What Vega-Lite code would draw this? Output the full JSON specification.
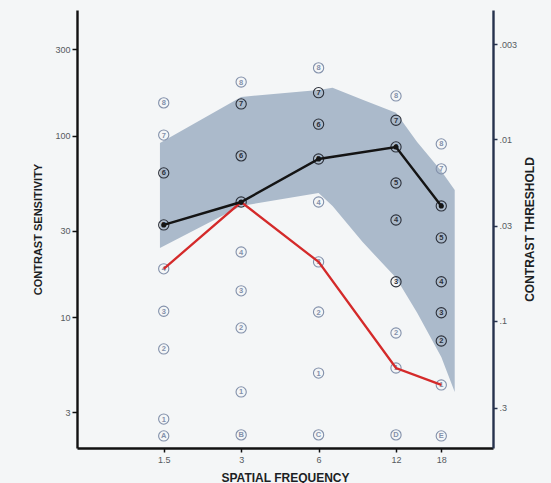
{
  "$schema": "https://vega.github.io/schema/vega-lite/v6.json",
  "autosize": {"type": "none"},
  "width": 416,
  "height": 438,
  "padding": {"left": 77, "top": 10, "right": 58, "bottom": 35},
  "background": "#f4f6f7",
  "config": {
    "view": {"stroke": null},
    "axis": {
      "grid": false,
      "labelFont": "Liberation Sans",
      "labelFontSize": 9,
      "labelColor": "#555a60",
      "titleFont": "Liberation Sans",
      "titleFontWeight": "bold",
      "titleColor": "#1c1f24"
    }
  },
  "datasets": {
    "band": [
      {"f": 1.45, "top": 91.4, "bottom": 24.1},
      {"f": 3, "top": 164, "bottom": 41.1},
      {"f": 6, "top": 179, "bottom": 48.5},
      {"f": 6.8, "top": 184, "bottom": 41.1},
      {"f": 8.9, "top": 158, "bottom": 26.0},
      {"f": 12, "top": 134, "bottom": 16.5},
      {"f": 14.5, "top": 92.6, "bottom": 10.6},
      {"f": 18, "top": 64.1, "bottom": 6.05},
      {"f": 20.3, "top": 50.4, "bottom": 3.88}
    ],
    "glyphs": [
      {"f": 1.5, "s": 152, "g": "8", "zone": "out"},
      {"f": 1.5, "s": 101, "g": "7", "zone": "out"},
      {"f": 1.5, "s": 62.5, "g": "6", "zone": "in"},
      {"f": 1.5, "s": 32.3, "g": "5", "zone": "in"},
      {"f": 1.5, "s": 18.5, "g": "4", "zone": "out"},
      {"f": 1.5, "s": 10.8, "g": "3", "zone": "out"},
      {"f": 1.5, "s": 6.7, "g": "2", "zone": "out"},
      {"f": 1.5, "s": 2.75, "g": "1", "zone": "out"},
      {"f": 1.5, "s": 2.22, "g": "A", "zone": "out"},
      {"f": 3, "s": 198, "g": "8", "zone": "out"},
      {"f": 3, "s": 150, "g": "7", "zone": "in"},
      {"f": 3, "s": 77.6, "g": "6", "zone": "in"},
      {"f": 3, "s": 43.2, "g": "5", "zone": "in"},
      {"f": 3, "s": 22.9, "g": "4", "zone": "out"},
      {"f": 3, "s": 14.0, "g": "3", "zone": "out"},
      {"f": 3, "s": 8.74, "g": "2", "zone": "out"},
      {"f": 3, "s": 3.88, "g": "1", "zone": "out"},
      {"f": 3, "s": 2.25, "g": "B", "zone": "out"},
      {"f": 6, "s": 237, "g": "8", "zone": "out"},
      {"f": 6, "s": 173, "g": "7", "zone": "in"},
      {"f": 6, "s": 116, "g": "6", "zone": "in"},
      {"f": 6, "s": 74.6, "g": "5", "zone": "in"},
      {"f": 6, "s": 43.2, "g": "4", "zone": "out"},
      {"f": 6, "s": 20.2, "g": "3", "zone": "out"},
      {"f": 6, "s": 10.7, "g": "2", "zone": "out"},
      {"f": 6, "s": 4.93, "g": "1", "zone": "out"},
      {"f": 6, "s": 2.25, "g": "C", "zone": "out"},
      {"f": 12, "s": 166, "g": "8", "zone": "out"},
      {"f": 12, "s": 122, "g": "7", "zone": "in"},
      {"f": 12, "s": 86.9, "g": "6", "zone": "in"},
      {"f": 12, "s": 55.0, "g": "5", "zone": "in"},
      {"f": 12, "s": 34.4, "g": "4", "zone": "in"},
      {"f": 12, "s": 15.7, "g": "3", "zone": "in"},
      {"f": 12, "s": 8.2, "g": "2", "zone": "out"},
      {"f": 12, "s": 5.26, "g": "1", "zone": "out"},
      {"f": 12, "s": 2.25, "g": "D", "zone": "out"},
      {"f": 18, "s": 90.3, "g": "8", "zone": "out"},
      {"f": 18, "s": 65.8, "g": "7", "zone": "out"},
      {"f": 18, "s": 41.1, "g": "6", "zone": "in"},
      {"f": 18, "s": 27.4, "g": "5", "zone": "in"},
      {"f": 18, "s": 15.7, "g": "4", "zone": "in"},
      {"f": 18, "s": 10.6, "g": "3", "zone": "in"},
      {"f": 18, "s": 7.41, "g": "2", "zone": "in"},
      {"f": 18, "s": 4.24, "g": "1", "zone": "out"},
      {"f": 18, "s": 2.22, "g": "E", "zone": "out"}
    ],
    "curves": [
      {"curve": "black", "f": 1.5, "s": 32.3},
      {"curve": "black", "f": 3, "s": 43.2},
      {"curve": "black", "f": 6, "s": 74.6},
      {"curve": "black", "f": 12, "s": 86.9},
      {"curve": "black", "f": 18, "s": 41.1},
      {"curve": "red", "f": 1.5, "s": 18.5},
      {"curve": "red", "f": 3, "s": 43.2},
      {"curve": "red", "f": 6, "s": 20.2},
      {"curve": "red", "f": 12, "s": 5.26},
      {"curve": "red", "f": 18, "s": 4.24}
    ]
  },
  "layer": [
    {
      "layer": [
        {
          "data": {"name": "band"},
          "mark": {"type": "area", "color": "#abbacb", "opacity": 1},
          "encoding": {
            "x": {
              "field": "f", "type": "quantitative",
              "scale": {"type": "log", "domain": [0.69, 28.6], "nice": false},
              "axis": {
                "values": [1.5, 3, 6, 12, 18],
                "format": "~g",
                "title": "SPATIAL FREQUENCY",
                "titleFontSize": 12,
                "titlePadding": 8,
                "domainColor": "#111111",
                "domainWidth": 2.6,
                "tickColor": "#111111",
                "tickWidth": 1.5,
                "tickSize": 4,
                "labelPadding": 3
              }
            },
            "y": {
              "field": "top", "type": "quantitative",
              "scale": {"type": "log", "domain": [1.905, 494], "nice": false},
              "axis": {
                "orient": "left",
                "values": [3, 10, 30, 100, 300],
                "format": "d",
                "title": "CONTRAST SENSITIVITY",
                "titleFontSize": 11,
                "titlePadding": 11,
                "domainColor": "#111111",
                "domainWidth": 2.4,
                "tickColor": "#111111",
                "tickWidth": 1.5,
                "tickSize": 5,
                "labelPadding": 2
              }
            },
            "y2": {"field": "bottom"}
          }
        },
        {
          "data": {"name": "glyphs"},
          "mark": {"type": "point", "shape": "circle", "filled": false, "size": 105, "strokeWidth": 1.1, "opacity": 1},
          "encoding": {
            "x": {"field": "f", "type": "quantitative"},
            "y": {"field": "s", "type": "quantitative"},
            "stroke": {
              "field": "zone", "type": "nominal",
              "scale": {"domain": ["in", "out"], "range": ["#2b303a", "#8391ab"]},
              "legend": null
            }
          }
        },
        {
          "data": {"name": "glyphs"},
          "mark": {"type": "text", "font": "Liberation Sans", "fontSize": 7.5, "fontWeight": "bold", "align": "center", "baseline": "middle", "dy": 0.5},
          "encoding": {
            "x": {"field": "f", "type": "quantitative"},
            "y": {"field": "s", "type": "quantitative"},
            "text": {"field": "g"},
            "color": {
              "field": "zone", "type": "nominal",
              "scale": {"domain": ["in", "out"], "range": ["#2b303a", "#8391ab"]},
              "legend": null
            }
          }
        },
        {
          "data": {"name": "curves"},
          "transform": [{"filter": "datum.curve === 'red'"}],
          "mark": {"type": "line", "strokeWidth": 2.3, "color": "#d42a2a"},
          "encoding": {
            "x": {"field": "f", "type": "quantitative"},
            "y": {"field": "s", "type": "quantitative"}
          }
        },
        {
          "data": {"name": "curves"},
          "transform": [{"filter": "datum.curve === 'black'"}],
          "mark": {"type": "line", "strokeWidth": 2.4, "color": "#141414"},
          "encoding": {
            "x": {"field": "f", "type": "quantitative"},
            "y": {"field": "s", "type": "quantitative"}
          }
        },
        {
          "data": {"name": "curves"},
          "transform": [{"filter": "datum.curve === 'black'"}],
          "mark": {"type": "point", "filled": true, "size": 26, "color": "#141414", "opacity": 1},
          "encoding": {
            "x": {"field": "f", "type": "quantitative"},
            "y": {"field": "s", "type": "quantitative"}
          }
        }
      ]
    },
    {
      "data": {"values": [{}]},
      "mark": {"type": "point", "opacity": 0},
      "encoding": {
        "y": {
          "datum": 0.01, "type": "quantitative",
          "scale": {"type": "log", "domain": [0.00194, 0.501], "reverse": true, "nice": false},
          "axis": {
            "orient": "right",
            "values": [0.003, 0.01, 0.03, 0.1, 0.3],
            "labelExpr": "replace(toString(datum.value), '0.', '.')",
            "title": "CONTRAST THRESHOLD",
            "titleFontSize": 12,
            "titleAngle": 270,
            "titleBaseline": "top",
            "titlePadding": 8,
            "domainColor": "#26324d",
            "domainWidth": 2.4,
            "tickColor": "#26324d",
            "tickWidth": 1.5,
            "tickSize": 4,
            "labelPadding": 2
          }
        }
      }
    }
  ],
  "resolve": {"scale": {"y": "independent"}}
}
